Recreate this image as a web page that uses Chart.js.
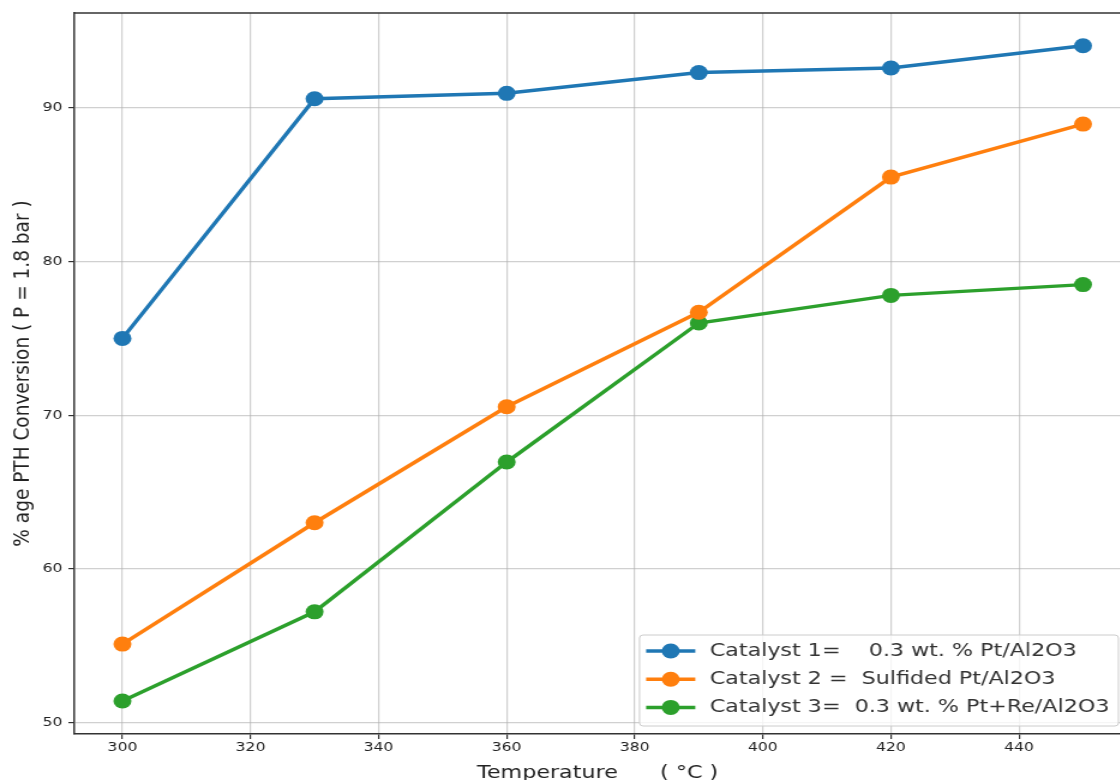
<!DOCTYPE html>
<html lang="en">
<head>
    <meta charset="UTF-8">
    <title>PTH Conversion vs Temperature</title>
    <script src="https://cdn.jsdelivr.net/npm/chart.js"></script>
    <style>
        html, body {
            margin: 0;
            padding: 0;
            background: #fff;
            overflow: hidden;
        }
        /* the reference is stretched sideways, so draw narrow and scale up */
        #chart {
            display: block;
            transform: scale(1.2, 1);
            transform-origin: 0 0;
        }
    </style>
</head>
<body>
    <canvas id="chart" width="934" height="780"></canvas>

    <script>
        const temps = [300, 330, 360, 390, 420, 450];
        const cat1 = [75.0, 90.6, 90.95, 92.3, 92.6, 94.05];
        const cat2 = [55.1, 63.0, 70.55, 76.7, 85.5, 88.95];
        const cat3 = [51.4, 57.2, 66.95, 76.0, 77.8, 78.5];
        const seriesLabels = [
            'Catalyst 1=    0.3 wt. % Pt/Al2O3',
            'Catalyst 2 =  Sulfided Pt/Al2O3',
            'Catalyst 3=  0.3 wt. % Pt+Re/Al2O3'
        ];
        const seriesColors = ['#1f77b4', '#ff7f0e', '#2ca02c'];
        const xTicks = [300, 320, 340, 360, 380, 400, 420, 440];
        const yTicks = [50, 60, 70, 80, 90];

        Chart.defaults.font.family = "'DejaVu Sans', sans-serif";
        Chart.defaults.color = '#222';

        const gridColor = 'rgba(176,176,176,0.6)';

        function pts(ys) {
            return temps.map((t, i) => ({ x: t, y: ys[i] }));
        }

        const datasets = [cat1, cat2, cat3].map((ys, i) => ({
            label: seriesLabels[i],
            data: pts(ys),
            borderColor: seriesColors[i],
            backgroundColor: seriesColors[i],
            borderWidth: 3.5,
            pointRadius: 7.5,
            pointBorderWidth: 0,
            tension: 0
        }));

        // top spine + legend box in lower right
        const extras = {
            id: 'extras',
            afterDraw(chart) {
                const ctx = chart.ctx;
                const a = chart.chartArea;
                ctx.save();
                ctx.strokeStyle = '#333';
                ctx.lineWidth = 1.5;
                ctx.beginPath();
                ctx.moveTo(a.left, a.top);
                ctx.lineTo(a.right, a.top);
                ctx.stroke();

                ctx.font = "18.5px 'DejaVu Sans'";
                let textW = 0;
                chart.data.datasets.forEach(d => {
                    textW = Math.max(textW, ctx.measureText(d.label).width);
                });
                const padL = 5.5, handle = 41, gap = 12, padR = 7.5;
                const w = padL + handle + gap + textW + padR;
                const h = 91;
                const right = a.right - 2;
                const bottom = a.bottom - 8;
                const left = right - w, top = bottom - h;

                ctx.fillStyle = 'rgba(255,255,255,0.8)';
                ctx.strokeStyle = '#cccccc';
                ctx.lineWidth = 1;
                ctx.beginPath();
                ctx.roundRect(left, top, w, h, 3);
                ctx.fill();
                ctx.stroke();

                chart.data.datasets.forEach((d, i) => {
                    const cy = top + 16 + i * 28.2;
                    const hx = left + padL;
                    ctx.strokeStyle = d.borderColor;
                    ctx.lineWidth = 3.5;
                    ctx.beginPath();
                    ctx.moveTo(hx, cy);
                    ctx.lineTo(hx + handle, cy);
                    ctx.stroke();
                    ctx.fillStyle = d.backgroundColor;
                    ctx.beginPath();
                    ctx.arc(hx + handle / 2, cy, 7.5, 0, Math.PI * 2);
                    ctx.fill();
                    ctx.fillStyle = '#333';
                    ctx.textBaseline = 'middle';
                    ctx.textAlign = 'left';
                    ctx.fillText(d.label, hx + handle + gap, cy);
                });
                ctx.restore();
            }
        };

        new Chart(document.getElementById('chart'), {
            type: 'line',
            data: { datasets: datasets },
            options: {
                responsive: false,
                animation: false,
                layout: {
                    autoPadding: false,
                    padding: { top: 13, left: 0, right: 0, bottom: 0 }
                },
                plugins: {
                    legend: { display: false },
                    tooltip: { enabled: false }
                },
                scales: {
                    x: {
                        type: 'linear',
                        min: 292.5,
                        max: 455.9,
                        afterBuildTicks: s => { s.ticks = xTicks.map(v => ({ value: v })); },
                        afterFit: s => {
                            s.height = 46;
                            s.paddingLeft = 0;
                            s.paddingRight = 0;
                        },
                        grid: {
                            color: c => xTicks.includes(c.tick.value) ? gridColor : 'transparent',
                            lineWidth: 1.2,
                            tickLength: 5,
                            tickColor: c => xTicks.includes(c.tick.value) ? '#333' : 'transparent'
                        },
                        border: { display: true, color: '#333', width: 1.5 },
                        ticks: { font: { size: 13 }, padding: 1, maxRotation: 0 },
                        title: {
                            display: true,
                            text: 'Temperature      ( °C )',
                            font: { size: 18.5 },
                            padding: { top: 0, bottom: -4 }
                        }
                    },
                    y: {
                        min: 49.25,
                        max: 96.18,
                        afterBuildTicks: s => { s.ticks = yTicks.map(v => ({ value: v })); },
                        afterFit: s => { s.width = 62; },
                        grid: {
                            color: gridColor,
                            lineWidth: 1.2,
                            tickLength: 5,
                            tickColor: '#333'
                        },
                        border: { display: true, color: '#333', width: 1.5 },
                        ticks: { font: { size: 13 }, padding: 5 },
                        title: {
                            display: true,
                            text: '% age PTH Conversion ( P = 1.8 bar )',
                            font: { size: 18.5 },
                            padding: { top: 8, bottom: 0 }
                        }
                    }
                }
            },
            plugins: [extras]
        });
    </script>
</body>
</html>
